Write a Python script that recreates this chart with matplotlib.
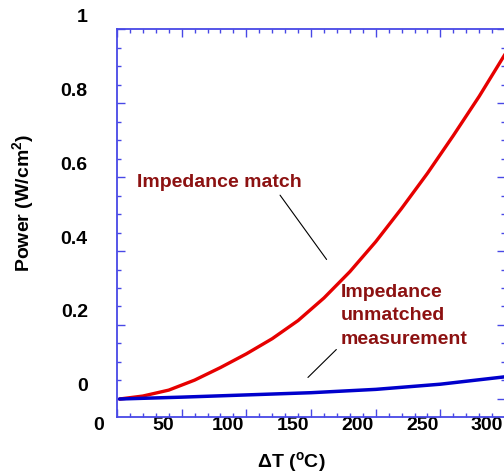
import numpy as np
import matplotlib
matplotlib.use("Agg")
import matplotlib.pyplot as plt
from matplotlib.transforms import ScaledTranslation
from matplotlib.ticker import MultipleLocator

plt.rcParams['font.family'] = ['Liberation Sans', 'DejaVu Sans']
plt.rcParams['font.weight'] = 'bold'
plt.rcParams['mathtext.fontset'] = 'custom'
plt.rcParams['mathtext.rm'] = 'Liberation Sans:bold'
plt.rcParams['mathtext.bf'] = 'Liberation Sans:bold'

dt_match = [2, 20, 40, 60, 80, 100, 120, 140, 160, 180, 200, 220, 240, 260, 280, 300]
p_match = [0.0, 0.008, 0.024, 0.051, 0.085, 0.122, 0.163, 0.212, 0.273, 0.344,
           0.425, 0.515, 0.610, 0.712, 0.818, 0.932]
dt_unmatched = [2, 50, 100, 150, 200, 250, 300]
p_unmatched = [0.0, 0.005, 0.011, 0.017, 0.026, 0.040, 0.060]

xticks = [0, 50, 100, 150, 200, 250, 300]
yticks = [0, 0.2, 0.4, 0.6, 0.8, 1.0]
ytick_labels = ['0', '0.2', '0.4', '0.6', '0.8', '1']

axis_blue = '#4848e6'
text_red = '#8c1111'

fig = plt.figure(figsize=(5.04, 4.74), dpi=100)
ax = fig.add_axes([0.2321, 0.1203, 0.770, 0.8185])

ax.plot(dt_match, p_match, color='#e60000', lw=2.4, solid_capstyle='round')
ax.plot(dt_unmatched, p_unmatched, color='#0000cc', lw=2.5, solid_capstyle='round')

ax.set_xlim(0, 300)
ax.set_ylim(-0.0486, 1.0)
ax.set_xticks(xticks)
ax.set_xticklabels([str(v) for v in xticks])
ax.set_yticks(yticks)
ax.set_yticklabels(ytick_labels)
ax.xaxis.set_minor_locator(MultipleLocator(10))
ax.yaxis.set_minor_locator(MultipleLocator(0.05))

for s in ax.spines.values():
    s.set_color(axis_blue)
    s.set_linewidth(1.3)
ax.tick_params(which='both', direction='in', top=True, right=True, color=axis_blue, width=1.0)
ax.tick_params(which='major', length=5.5)
ax.tick_params(which='minor', length=3)
ax.tick_params(axis='y', which='major', pad=21, labelsize=14)
ax.tick_params(axis='x', which='major', pad=0, labelsize=14)

# tick labels in the original sit off their marks
for lab in ax.get_xticklabels():
    lab.set_transform(lab.get_transform() + ScaledTranslation(-0.18, 0.0, fig.dpi_scale_trans))
for lab in ax.get_yticklabels():
    lab.set_transform(lab.get_transform() + ScaledTranslation(0.0, 0.14, fig.dpi_scale_trans))

ax.set_ylabel('Power (W/cm$^{2}$)', fontsize=14, fontweight='bold')
ax.yaxis.set_label_coords(-0.206, 0.552)
ax.set_xlabel(r'$\Delta$T ($^{\mathregular{o}}$C)', fontsize=14, fontweight='bold')
ax.xaxis.set_label_coords(0.448, -0.085)

ax.text(15.5, 0.584, 'Impedance match', color=text_red, fontsize=14,
        fontweight='bold', ha='left', va='center')
ax.text(173.2, 0.225, 'Impedance\nunmatched\nmeasurement', color=text_red, fontsize=14,
        fontweight='bold', ha='left', va='center', linespacing=1.5)
ax.annotate('', xy=(163.3, 0.371), xytext=(124.8, 0.557),
            arrowprops=dict(arrowstyle='-', color='black', lw=0.8))
ax.annotate('', xy=(146.1, 0.053), xytext=(171.1, 0.139),
            arrowprops=dict(arrowstyle='-', color='black', lw=0.8))

fig.savefig('out.png', dpi=100)
